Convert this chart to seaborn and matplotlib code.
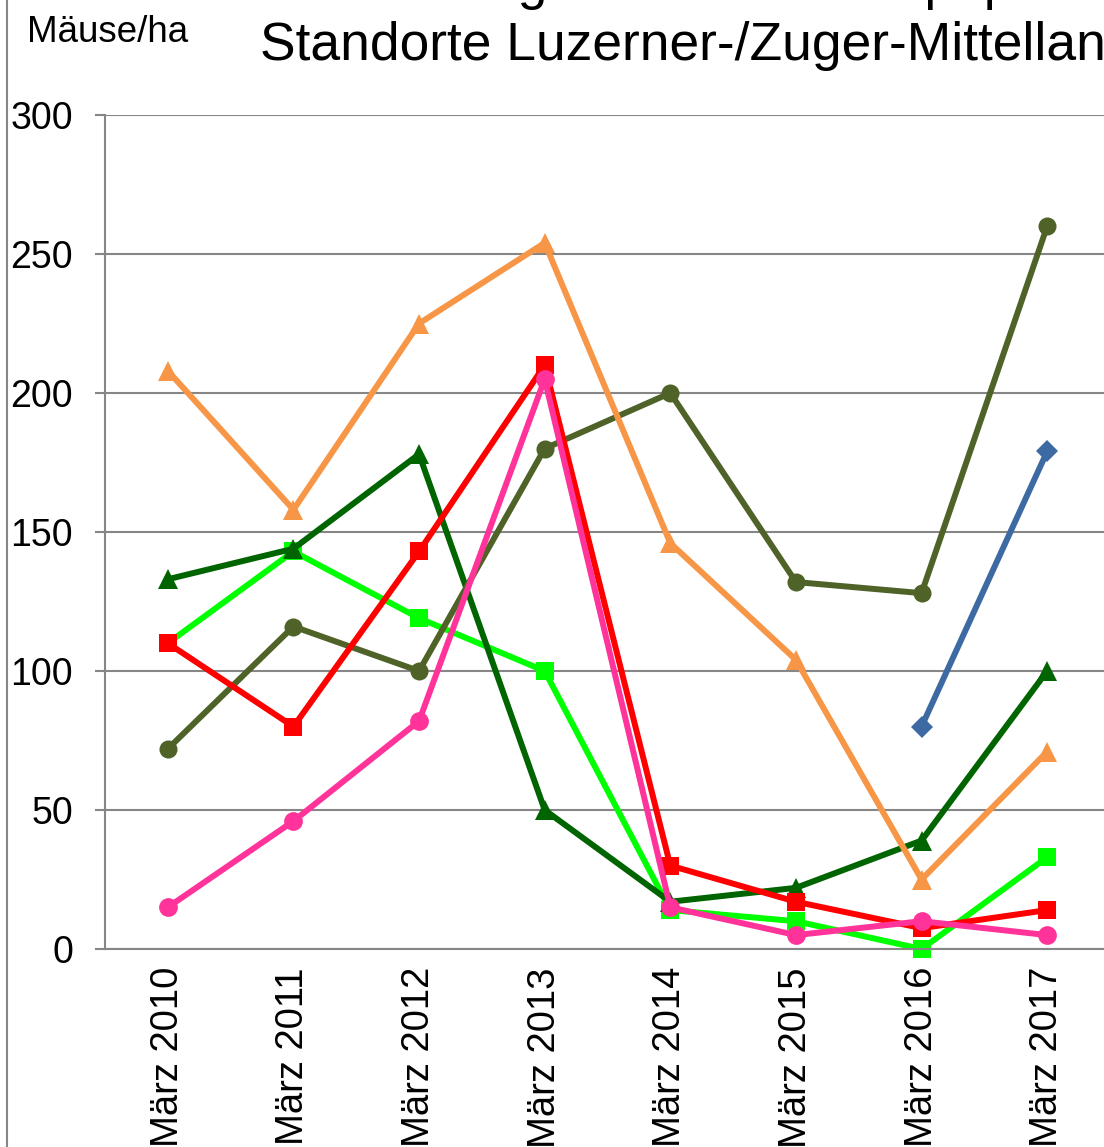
import pandas as pd
import matplotlib.pyplot as plt
import seaborn as sns
from matplotlib.lines import Line2D

# Data
jahre = ['März 2010', 'März 2011', 'März 2012', 'März 2013',
         'März 2014', 'März 2015', 'März 2016', 'März 2017']
hellgruen = [110, 143, 119, 100, 14, 10, 0, 33]
dunkelgruen = [133, 144, 178, 50, 17, 22, 39, 100]
oliv = [72, 116, 100, 180, 200, 132, 128, 260]
rot = [110, 80, 143, 210, 30, 17, 7.5, 14]
pink = [15, 46, 82, 205, 15, 5, 10, 5]
orange = [208, 158, 225, 254, 146, 104, 25, 71]
blau_jahre = ['März 2016', 'März 2017']
blau = [80, 179]

title_1 = 'Entwicklung der Schermauspopulationen auf'
title_2 = 'Standorte Luzerner-/Zuger-Mittelland'
y_label = 'Mäuse/ha'

series = [
    (jahre, hellgruen, '#00FF00', 's', 12.5),
    (jahre, dunkelgruen, '#006400', '^', 14),
    (jahre, oliv, '#4F6228', 'o', 13),
    (jahre, rot, '#FF0000', 's', 12.5),
    (jahre, pink, '#FF3399', 'o', 13.5),
    (jahre, orange, '#F79646', '^', 15),
    (blau_jahre, blau, '#3D6AA3', 'D', 11),
]

sns.set_style('white')
plt.rcParams['font.family'] = ['Liberation Sans', 'DejaVu Sans']
plt.rcParams['text.color'] = 'black'
plt.rcParams['xtick.color'] = 'black'
plt.rcParams['ytick.color'] = 'black'

fig = plt.figure(figsize=(11.04, 11.47), dpi=100)
ax = fig.add_axes([105 / 1104, 1 - 949 / 1147, 1005 / 1104, (949 - 115) / 1147])

grau = '#868686'
for x, y, farbe, marker, ms in series:
    df = pd.DataFrame({'Jahr': x, 'Wert': y})
    sns.lineplot(data=df, x='Jahr', y='Wert', ax=ax, color=farbe, linewidth=4.3,
                 marker=marker, markersize=ms, markeredgecolor=farbe,
                 markeredgewidth=0, sort=False, clip_on=False)

ax.set_xlim(-0.5, 7.5)
ax.set_ylim(0, 300)
ax.set_yticks(range(0, 301, 50))
ax.set_xticks(range(len(jahre)))
ax.set_xticklabels(jahre, rotation=90, fontsize=27.5, color='black')
ax.set_xticks([i - 0.5 for i in range(len(jahre) + 1)], minor=True)
ax.tick_params(axis='x', which='major', length=0, pad=13)
ax.tick_params(axis='x', which='minor', direction='out', length=7, width=1.5, color=grau)
ax.tick_params(axis='y', direction='out', length=7, width=1.5, color=grau,
               pad=16, labelsize=27, labelcolor='black', left=True)
ax.set_xlabel('')
ax.set_ylabel('')

ax.grid(axis='y', color=grau, linewidth=1.5)
ax.grid(axis='x', visible=False)
ax.set_axisbelow(True)
for s in ['top', 'right']:
    ax.spines[s].set_visible(False)
for s in ['left', 'bottom']:
    ax.spines[s].set_color(grau)
    ax.spines[s].set_linewidth(1.5)

# Titles (the chart is cropped at the top and right)
fig.text(262 / 1104, 1 + 1 / 1147, title_1, fontsize=38.4, va='baseline', ha='left', color='black')
fig.text(260 / 1104, 1 - 60 / 1147, title_2, fontsize=38.4, va='baseline', ha='left', color='black')
fig.text(27 / 1104, 1 - 42 / 1147, y_label, fontsize=26.5, va='baseline', ha='left', color='black')

# chart area border on the left
fig.add_artist(Line2D([7 / 1104, 7 / 1104], [0, 1], color=grau, linewidth=1.5))

fig.savefig('out.png', dpi=100)
